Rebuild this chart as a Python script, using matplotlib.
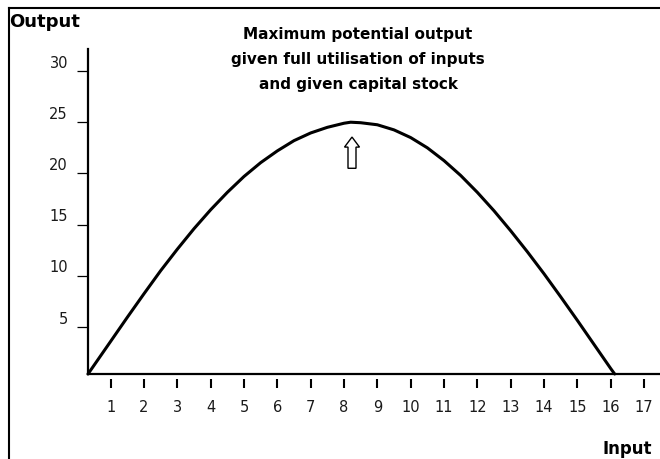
import matplotlib
matplotlib.use("Agg")
import matplotlib.pyplot as plt
from matplotlib.lines import Line2D
from matplotlib.transforms import blended_transform_factory

# ---- data ----
inputs = [0.32, 1, 1.5, 2, 2.5, 3, 3.5, 4, 4.5, 5, 5.5, 6, 6.5, 7, 7.5, 8, 8.2,
          8.5, 9, 9.5, 10, 10.5, 11, 11.5, 12, 12.5, 13, 13.5, 14, 14.5, 15,
          15.5, 16, 16.12]
output = [0.41, 3.6, 5.95, 8.25, 10.5, 12.6, 14.6, 16.45, 18.15, 19.7, 21.05, 22.2,
          23.2, 23.95, 24.5, 24.9, 25.0, 24.95, 24.75, 24.25, 23.5, 22.5, 21.25,
          19.8, 18.15, 16.35, 14.4, 12.35, 10.2, 7.95, 5.65, 3.3, 0.95, 0.41]
x_ticks = list(range(1, 18))
y_ticks = [5, 10, 15, 20, 25, 30]
title_lines = ["Maximum potential output",
               "given full utilisation of inputs",
               "and given capital stock"]
peak_input = 8.24
arrow_from, arrow_to = 20.5, 23.55

W, H = 660, 459
fig = plt.figure(figsize=(W / 100, H / 100), dpi=100)
fig.patch.set_facecolor("white")
ax = fig.add_axes([88 / W, 85 / H, 572 / W, 325 / H])
ax.set_xlim(0.32, 17.48)
ax.set_ylim(0.41, 32.15)

for s in ("top", "right"):
    ax.spines[s].set_visible(False)
for s in ("left", "bottom"):
    ax.spines[s].set_linewidth(1.6)
    ax.spines[s].set_color("black")

ax.plot(inputs, output, color="black", lw=2.2, clip_on=False,
        solid_capstyle="round", solid_joinstyle="round")

# y ticks
ax.set_yticks(y_ticks)
ax.set_yticklabels([])
ax.tick_params(axis="y", length=8, width=0.9, direction="out", color="black")
for v in y_ticks:
    ax.annotate(str(v), xy=(0, v), xycoords=("axes fraction", "data"),
                xytext=(-20, 8), textcoords="offset pixels",
                ha="right", va="center", fontsize=10.5, family="DejaVu Sans",
                color="#1a1a1a")

# x ticks
ax.set_xticks(x_ticks)
ax.set_xticklabels([str(v) for v in x_ticks], fontsize=10.5, family="DejaVu Sans",
                   color="#1a1a1a")
ax.tick_params(axis="x", length=0, pad=19)
bt = blended_transform_factory(ax.transData, ax.transAxes)
ax.vlines(x_ticks, -5 / 325, -14 / 325, transform=bt, colors="black", lw=1.5, clip_on=False)

# arrow
ax.arrow(peak_input, arrow_from, 0, arrow_to - arrow_from, width=0.24, head_width=0.45,
         head_length=0.98, length_includes_head=True, fc="white", ec="black", lw=1.0)

# frame lines
fig.add_artist(Line2D([8.5 / W, 8.5 / W], [0, 1 - 8 / H], transform=fig.transFigure,
                      color="black", lw=1.5))
fig.add_artist(Line2D([8.5 / W, 1], [1 - 8 / H, 1 - 8 / H], transform=fig.transFigure,
                      color="black", lw=1.5))

# texts
for txt, yb in zip(title_lines, [39, 64, 89]):
    fig.text(358 / W, 1 - yb / H, txt, ha="center", va="baseline", fontsize=11,
             fontweight="bold", family="DejaVu Sans")
fig.text(9 / W, 1 - 26.7 / H, "Output", ha="left", va="baseline", fontsize=13,
         fontweight="bold", family="DejaVu Sans")
fig.text(603 / W, 1 - 454 / H, "Input", ha="left", va="baseline", fontsize=12,
         fontweight="bold", family="DejaVu Sans")

fig.savefig("out.png", dpi=100, facecolor="white")
